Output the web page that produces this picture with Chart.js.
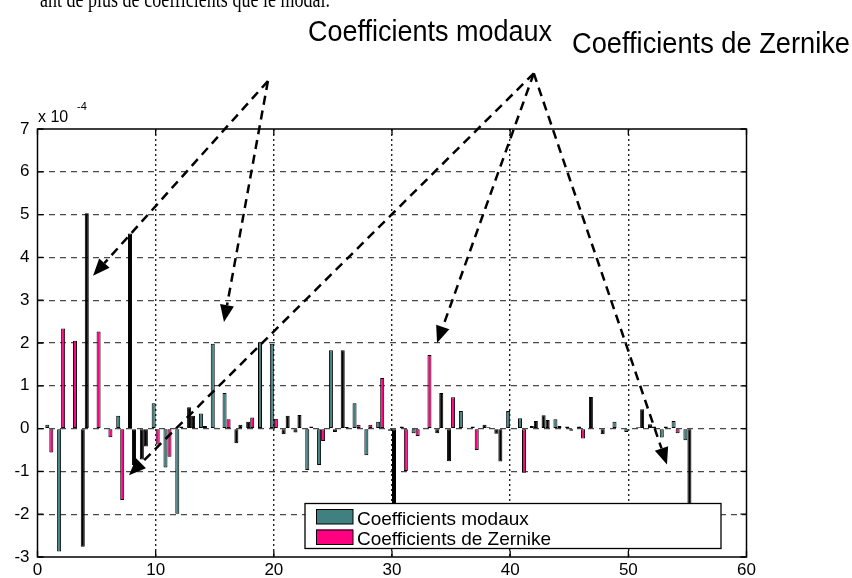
<!DOCTYPE html>
<html>
<head>
<meta charset="utf-8">
<script src="https://cdn.jsdelivr.net/npm/chart.js@4.4.0/dist/chart.umd.min.js"></script>
<style>
html, body { margin: 0; padding: 0; background: #fff; }
#wrap { position: relative; width: 852px; height: 578px; }
</style>
</head>
<body>
<div id="wrap"><canvas id="c" width="852" height="578"></canvas></div>
<script>
// coefficient index (x) and values in units of 1e-4
const coefIndex = [1, 2, 3, 4, 5, 6, 7, 8, 9, 10, 11, 12, 13, 14, 15, 16, 17, 18, 19, 20,
  21, 22, 23, 24, 25, 26, 27, 28, 29, 30, 31, 32, 33, 34, 35, 36, 37, 38, 39, 40,
  41, 42, 43, 44, 45, 46, 47, 48, 49, 50, 51, 52, 53, 54, 55];
const modalCoef = [0.09, -2.87, 0, -2.76, 0, 0, 0.30, 4.56, -0.72, 0.59,
  -0.91, -1.99, 0.50, 0.35, 1.98, 0.83, -0.34, 0.16, 2.01, 1.98,
  -0.13, -0.09, -0.97, -0.85, 1.83, 1.83, 0.59, -0.62, 0.16, -0.05,
  0.05, -0.11, 0.02, -0.11, -0.76, 0.41, 0.05, 0.09, -0.12, 0.41,
  0.24, 0.06, 0.31, 0.22, 0.05, 0.05, 0.74, -0.13, 0.16, -0.08,
  0.03, 0.10, -0.21, 0.18, -0.27];
const zernikeCoef = [-0.56, 2.34, 2.05, 5.03, 2.27, -0.20, -1.67, -0.85, -0.42, -0.37,
  -0.66, 0.05, 0.30, 0.06, 0.02, 0.22, 0.09, 0.26, 0.02, 0.23,
  0.30, 0.32, 0.05, -0.29, -0.08, 0.04, 0.09, 0.09, 1.18, -2.30,
  -0.99, -0.17, 1.72, 0.83, 0.73, 0.02, -0.50, 0.03, -0.77, 0.02,
  -1.03, 0.18, 0.20, 0.06, -0.05, -0.23, 0.02, 0.02, 0.02, 0.02,
  0.45, 0.05, 0.05, -0.11, -2.40];
const xTicks = [0, 10, 20, 30, 40, 50, 60];
const yTicks = [-3, -2, -1, 0, 1, 2, 3, 4, 5, 6, 7];
const seriesNames = ["Coefficients modaux", "Coefficients de Zernike"];

const FONT = "'Liberation Sans', Arial, sans-serif";
const TEAL = "#408080";
const PINK = "#ff0080";

// bars that the original render shows as solid black (thin-bar aliasing)
const darkModal = new Set([4, 8, 9, 13, 17, 18, 21, 22, 26, 30, 34, 35, 37, 38, 39, 42, 43, 47, 48, 51, 52]);
const darkZernike = new Set([4, 8, 9, 12, 13, 17, 21, 22, 25, 26, 30, 34, 39, 42, 43, 51, 52, 55]);

function arrow(ctx, x0, y0, x1, y1) {
  const a = Math.atan2(y1 - y0, x1 - x0);
  const hl = 17, hw = 7;
  const bx = x1 - hl * Math.cos(a), by = y1 - hl * Math.sin(a);
  ctx.setLineDash([9, 6]);
  ctx.beginPath(); ctx.moveTo(x0, y0); ctx.lineTo(bx, by); ctx.stroke();
  ctx.setLineDash([]);
  ctx.beginPath();
  ctx.moveTo(x1, y1);
  ctx.lineTo(bx + hw * Math.sin(a), by - hw * Math.cos(a));
  ctx.lineTo(bx - hw * Math.sin(a), by + hw * Math.cos(a));
  ctx.closePath(); ctx.fill();
}

const matlabLook = {
  id: "matlabLook",
  beforeDraw(chart) {
    const ctx = chart.ctx;
    ctx.save();
    ctx.fillStyle = "#fff";
    ctx.fillRect(0, 0, chart.width, chart.height);
    ctx.restore();
  },
  afterDatasetsDraw(chart) {
    const ctx = chart.ctx, a = chart.chartArea;
    const xs = chart.scales.x, ys = chart.scales.y;
    ctx.save();
    // inner ticks
    ctx.strokeStyle = "#000";
    ctx.lineWidth = 1.3;
    ctx.beginPath();
    xTicks.forEach(v => {
      const px = xs.getPixelForValue(v);
      ctx.moveTo(px, a.bottom); ctx.lineTo(px, a.bottom - 6);
      ctx.moveTo(px, a.top); ctx.lineTo(px, a.top + 6);
    });
    yTicks.forEach(v => {
      const py = ys.getPixelForValue(v);
      ctx.moveTo(a.left, py); ctx.lineTo(a.left + 6, py);
      ctx.moveTo(a.right, py); ctx.lineTo(a.right - 6, py);
    });
    ctx.stroke();
    // legend
    const lx = 305, ly = 503.5, lw = 416, lh = 45;
    ctx.fillStyle = "#fff";
    ctx.fillRect(lx, ly, lw, lh);
    ctx.lineWidth = 1.3;
    ctx.strokeRect(lx, ly, lw, lh);
    [TEAL, PINK].forEach((col, i) => {
      const sy = 509 + i * 20.5;
      ctx.fillStyle = col;
      ctx.fillRect(316, sy, 37, 15);
      ctx.lineWidth = 1;
      ctx.strokeRect(316.5, sy + 0.5, 36.5, 14.5);
      ctx.fillStyle = "#000";
      ctx.font = "19px " + FONT;
      ctx.textBaseline = "alphabetic";
      ctx.fillText(seriesNames[i], 357, 524.5 + i * 20.5);
    });
    // frame
    ctx.lineWidth = 1.5;
    ctx.strokeRect(a.left, a.top, a.right - a.left, a.bottom - a.top);
    ctx.restore();
  },
  afterDraw(chart) {
    const ctx = chart.ctx;
    const xs = chart.scales.x, ys = chart.scales.y;
    ctx.save();
    ctx.fillStyle = "#000";
    ctx.textBaseline = "alphabetic";
    // exponent
    ctx.font = "16px " + FONT;
    ctx.fillText("x 10", 38, 122);
    ctx.font = "11px " + FONT;
    ctx.fillText("-4", 77, 110);
    // cut-off text line at the very top of the page
    ctx.font = "24px 'Liberation Serif', 'Times New Roman', serif";
    ctx.fillText("ant de plus de coefficients que le modal.", 40, 7, 290);
    // annotations
    ctx.font = "29px " + FONT;
    ctx.fillText(seriesNames[0], 308, 41, 244);
    ctx.fillText(seriesNames[1], 572, 53, 278);
    // arrows, given in data coordinates
    const P = (x, y) => [xs.getPixelForValue(x), ys.getPixelForValue(y)];
    ctx.strokeStyle = "#000";
    ctx.lineWidth = 2.5;
    const m0 = P(19.5, 8.12);
    [[4.70, 3.57], [15.78, 2.49]].forEach(t => {
      const p = P(t[0], t[1]);
      arrow(ctx, m0[0], m0[1], p[0], p[1]);
    });
    const z0 = P(42.0, 8.3);
    [[7.74, -1.09], [33.81, 2.0], [53.27, -0.84]].forEach(t => {
      const p = P(t[0], t[1]);
      arrow(ctx, z0[0], z0[1], p[0], p[1]);
    });
    ctx.restore();
  }
};

new Chart(document.getElementById("c"), {
  type: "bar",
  data: {
    datasets: [
      {
        label: seriesNames[0],
        data: coefIndex.map((k, i) => ({ x: k, y: modalCoef[i] })),
        backgroundColor: c => (c.raw && darkModal.has(c.raw.x)) ? "#000" : TEAL,
        borderColor: "#000",
        borderWidth: 1,
        borderSkipped: false
      },
      {
        label: seriesNames[1],
        data: coefIndex.map((k, i) => ({ x: k, y: zernikeCoef[i] })),
        backgroundColor: c => (c.raw && darkZernike.has(c.raw.x)) ? "#000" : PINK,
        borderColor: "#000",
        borderWidth: 1,
        borderSkipped: false
      }
    ]
  },
  options: {
    responsive: false,
    animation: false,
    devicePixelRatio: 1,
    categoryPercentage: 0.68,
    barPercentage: 1,
    layout: { padding: { top: 129, right: 105.5, left: 0, bottom: 0 } },
    plugins: { legend: { display: false }, tooltip: { enabled: false } },
    scales: {
      x: {
        type: "linear",
        min: 0, max: 60,
        offset: false,
        afterBuildTicks: s => { s.ticks = xTicks.map(v => ({ value: v })); },
        afterFit: s => { s.height = 21; },
        ticks: { color: "#000", font: { family: FONT, size: 17 }, padding: 3, maxRotation: 0 },
        grid: {
          offset: false,
          drawTicks: false,
          lineWidth: 1.4,
          color: c => (c.tick && (c.tick.value === 0 || c.tick.value === 60)) ? "rgba(0,0,0,0)" : "#222"
        },
        border: { display: false, dash: [2, 3] }
      },
      y: {
        min: -3, max: 7,
        afterBuildTicks: s => { s.ticks = yTicks.map(v => ({ value: v })); },
        afterFit: s => { s.width = 37.5; },
        ticks: { color: "#000", font: { family: FONT, size: 17 }, padding: 8 },
        grid: {
          drawTicks: false,
          lineWidth: 1.3,
          color: c => (c.tick && (c.tick.value === -3 || c.tick.value === 7)) ? "rgba(0,0,0,0)" : "#4a4a4a"
        },
        border: { display: false, dash: [6, 5] }
      }
    }
  },
  plugins: [matlabLook]
});
</script>
</body>
</html>
